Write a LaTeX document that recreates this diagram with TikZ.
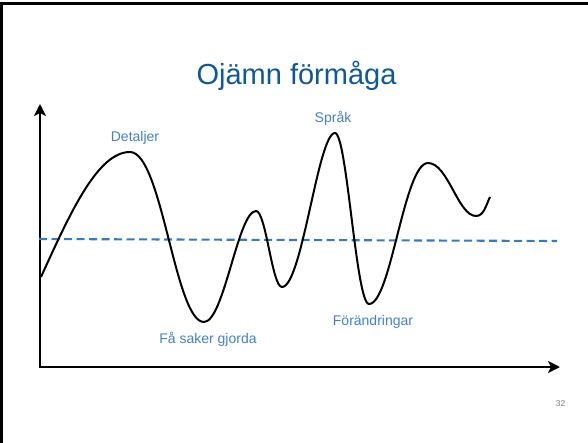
\documentclass[tikz,border=0pt]{standalone}
\usepackage{fontspec}
\setmainfont{Liberation Sans}
\usetikzlibrary{arrows.meta}
\definecolor{titleblue}{RGB}{16,88,150}
\definecolor{labelblue}{RGB}{68,130,196}
\definecolor{dashblue}{RGB}{56,122,194}

\begin{document}
\begin{tikzpicture}[
		x=1pt, y=-1pt,
		axis/.style={line width=2.4pt, {Stealth[length=12pt, width=12pt, inset=3pt]}-{Stealth[length=12pt, width=12pt, inset=3pt]}},
		wave/.style={line width=2pt, line join=round},
		average/.style={dashblue, line width=2.1pt, dash pattern=on 8pt off 4.5pt},
		tag/.style={labelblue, font=\fontsize{14}{16}\selectfont, anchor=base, inner sep=0pt},
		heading/.style={titleblue, font=\fontsize{29}{34}\selectfont, anchor=base, inner sep=0pt},
	]
		\useasboundingbox (0,0) rectangle (588,443);
		\draw[line width=2.6pt] (1.3,443) -- (1.3,3.3) -- (588,3.3);
		
		\node[heading] (title) at (296.5,85) {Ojämn förmåga};
		
		\coordinate (origin) at (40,367);
		\coordinate (y end) at (40,104);
		\coordinate (x end) at (560,367);
		\coordinate (avg a) at (39,239);
		\coordinate (avg b) at (557,241);
		
		\coordinate (start) at (41,277);
		\coordinate (detail top) at (130,152);
		\coordinate (few low) at (204,322);
		\coordinate (small top) at (256,211);
		\coordinate (small low) at (282,287);
		\coordinate (lang top) at (335,133);
		\coordinate (change low) at (369,304);
		\coordinate (last top) at (428,163);
		\coordinate (last low) at (476,216);
		\coordinate (stop) at (490,197);
		
		\draw[axis] (y end) -- (origin) -- (x end);
		\draw[average] (avg a) -- (avg b);
		
		\draw[wave] (start) .. controls +(30,-66) and +(-32,0) .. (detail top)
			.. controls +(32,0) and +(-29,0) .. (few low)
			.. controls +(20,0) and +(-18,0) .. (small top)
			.. controls +(10,0) and +(-10,0) .. (small low)
			.. controls +(20,0) and +(-17,0) .. (lang top)
			.. controls +(12,0) and +(-13,0) .. (change low)
			.. controls +(22,0) and +(-24,0) .. (last top)
			.. controls +(20,0) and +(-18,0) .. (last low)
			.. controls +(8,0) and +(-4,8) .. (stop);
		
		\node[tag] (details) at (135,142) {Detaljer};
		\node[tag] (language) at (333,122.7) {Språk};
		\node[tag] (few done) at (208,343) {Få saker gjorda};
		\node[tag] (changes) at (373,325.5) {Förändringar};
		\node[anchor=base, inner sep=0pt, gray, font=\fontsize{8.5}{10}\selectfont] (slide no) at (560.5,406) {32};
	\end{tikzpicture}
\end{document}
